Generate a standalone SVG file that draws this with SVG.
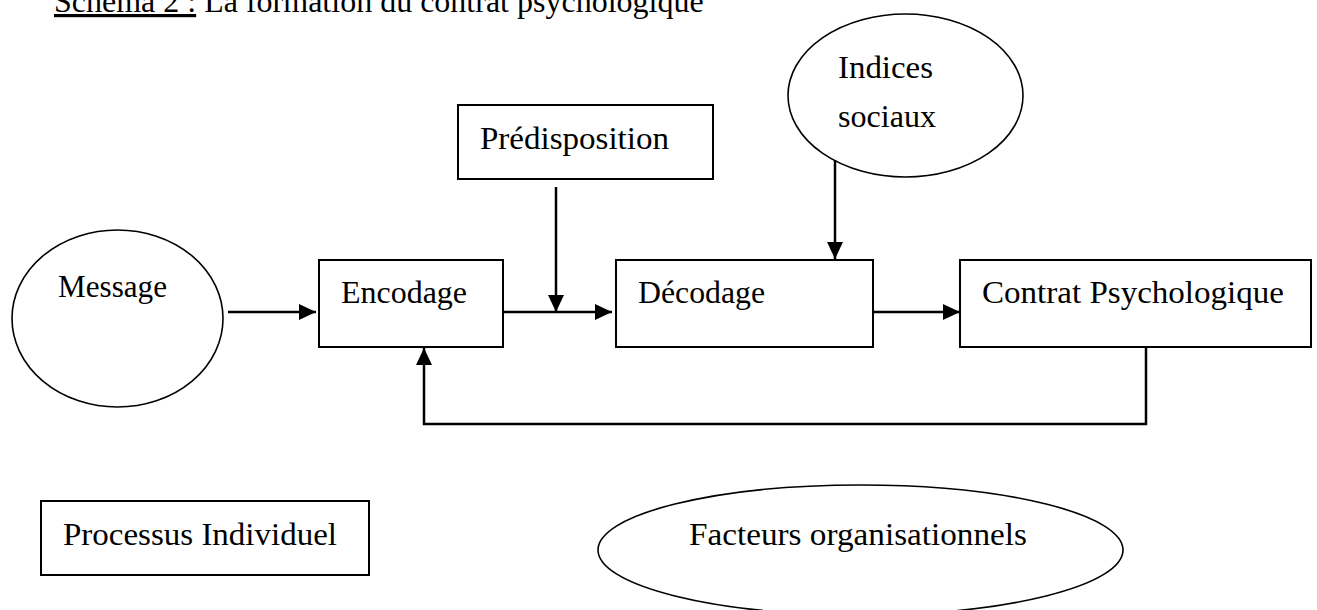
<svg xmlns="http://www.w3.org/2000/svg" width="1317" height="610" viewBox="0 0 1317 610">
<style>
text{font-family:"Liberation Serif","Times New Roman",serif;font-size:32px;fill:#000}
.box{fill:#fff;stroke:#000;stroke-width:2}
.ell{fill:#fff;stroke:#000;stroke-width:1.6}
.conn{fill:none;stroke:#000;stroke-width:2.5}
</style>
<defs>
<marker id="ah" markerUnits="userSpaceOnUse" markerWidth="17" markerHeight="16" refX="17" refY="8" orient="auto">
<path d="M0,0 L17,8 L0,16 z" fill="#000"/>
</marker>
</defs>
<rect width="1317" height="610" fill="#fff"/>
<g id="title">
<text x="54" y="12"><tspan text-decoration="underline">Schéma 2 :</tspan> La formation du contrat psychologique</text>
</g>
<g id="message">
<ellipse class="ell" cx="117.5" cy="318.5" rx="105.5" ry="88.5"/>
<text x="58" y="297" textLength="109" lengthAdjust="spacingAndGlyphs">Message</text>
</g>
<g id="encodage">
<rect class="box" x="319" y="260" width="184" height="87"/>
<text x="341" y="303" textLength="126" lengthAdjust="spacingAndGlyphs">Encodage</text>
</g>
<g id="predisposition">
<rect class="box" x="458" y="105" width="255" height="74"/>
<text x="480" y="149" textLength="189" lengthAdjust="spacingAndGlyphs">Prédisposition</text>
</g>
<g id="indices">
<ellipse class="ell" cx="905.5" cy="95.5" rx="117.5" ry="81.5"/>
<text x="838" y="78" textLength="95" lengthAdjust="spacingAndGlyphs">Indices</text>
<text x="838" y="127" textLength="98" lengthAdjust="spacingAndGlyphs">sociaux</text>
</g>
<g id="decodage">
<rect class="box" x="616" y="260" width="257" height="87"/>
<text x="638" y="303" textLength="127" lengthAdjust="spacingAndGlyphs">Décodage</text>
</g>
<g id="contrat">
<rect class="box" x="960" y="260" width="351" height="87"/>
<text x="982" y="303" textLength="302" lengthAdjust="spacingAndGlyphs">Contrat Psychologique</text>
</g>
<g id="processus">
<rect class="box" x="41" y="501" width="328" height="74"/>
<text x="63" y="545" textLength="274" lengthAdjust="spacingAndGlyphs">Processus Individuel</text>
</g>
<g id="facteurs">
<ellipse class="ell" cx="860.5" cy="550" rx="262.5" ry="65"/>
<text x="689" y="545" textLength="338" lengthAdjust="spacingAndGlyphs">Facteurs organisationnels</text>
</g>
<g id="connectors">
<line class="conn" x1="228" y1="312" x2="316" y2="312" marker-end="url(#ah)"/>
<line class="conn" x1="503" y1="312" x2="612" y2="312" marker-end="url(#ah)"/>
<line class="conn" x1="556" y1="187" x2="556" y2="312" marker-end="url(#ah)"/>
<line class="conn" x1="835" y1="160" x2="835" y2="259" marker-end="url(#ah)"/>
<line class="conn" x1="873" y1="312" x2="960" y2="312" marker-end="url(#ah)"/>
<polyline class="conn" points="1146,347 1146,424 424,424 424,348" marker-end="url(#ah)"/>
</g>
</svg>
